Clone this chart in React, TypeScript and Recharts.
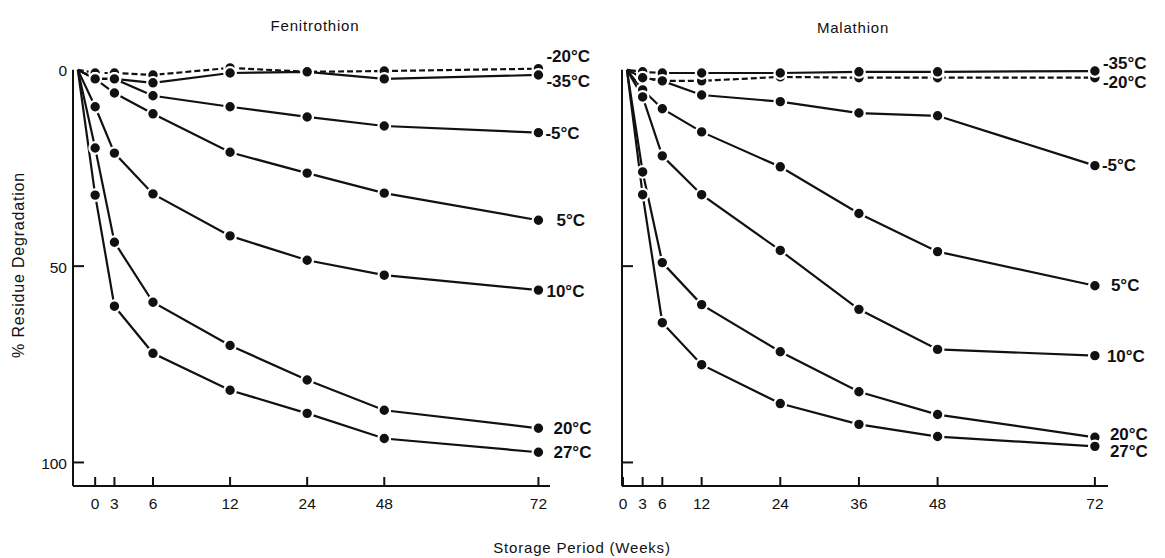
import React from 'react';
import { LineChart, Line, XAxis, YAxis, ReferenceLine } from 'recharts';

const FONT = '"Liberation Sans", Arial, Helvetica, sans-serif';

// Fenitrothion: storage weeks, plotted on the report's hand-spaced scale
const FEN_WEEKS = [0, 3, 6, 12, 24, 48, 72];
const FEN_SCALE_POS = [0, 1, 3, 7, 11, 15, 23];
const FEN_START = -0.9;
const FEN_M20 = [0.8, 0.8, 1.3, -0.5, 0.5, 0.3, -0.3];
const FEN_M35 = [2.3, 2.3, 3.3, 0.8, 0.5, 2.3, 1.3];
const FEN_M5 = [2.3, 2.3, 6.6, 9.4, 12, 14.3, 16];
const FEN_P5 = [2.3, 5.9, 11.2, 21, 26.3, 31.4, 38.3];
const FEN_P10 = [9.4, 21.2, 31.6, 42.3, 48.5, 52.3, 56.1];
const FEN_P20 = [19.9, 43.9, 59.2, 70.2, 79, 86.7, 91.3];
const FEN_P27 = [31.9, 60.2, 72.2, 81.6, 87.5, 93.9, 97.4];

// Malathion: linear week scale
const MAL_WEEKS = [3, 6, 12, 24, 36, 48, 72];
const MAL_TICKS = [0, 3, 6, 12, 24, 36, 48, 72];
const MAL_START = 0.6;
const MAL_M35 = [0.5, 0.8, 0.8, 0.8, 0.5, 0.5, 0.3];
const MAL_M20 = [2, 2.8, 2.8, 1.8, 2, 2, 2];
const MAL_M5 = [2, 2.8, 6.4, 8.1, 11, 11.7, 24.4];
const MAL_P5 = [5.1, 9.9, 15.8, 24.7, 36.6, 46.3, 55];
const MAL_P10 = [6.9, 21.9, 31.8, 46, 61, 71.2, 72.8];
const MAL_P20 = [26, 49.1, 59.8, 71.8, 82, 87.8, 93.6];
const MAL_P27 = [31.8, 64.4, 75.1, 85, 90.3, 93.4, 95.9];

const Y_TICKS = [0, 50, 100];

type Temp = { key: string; label: string; dashed?: boolean };
const TEMPS: Temp[] = [
  { key: 'm20', label: '-20°C', dashed: true },
  { key: 'm35', label: '-35°C' },
  { key: 'm5', label: '-5°C' },
  { key: 'p5', label: '5°C' },
  { key: 'p10', label: '10°C' },
  { key: 'p20', label: '20°C' },
  { key: 'p27', label: '27°C' },
];

const buildRows = (start: number, xs: number[], series: Record<string, number[]>) => {
  const first: Record<string, number> = { x: start };
  TEMPS.forEach(t => (first[t.key] = 0));
  return [
    first,
    ...xs.map((x, i) => {
      const row: Record<string, number> = { x };
      TEMPS.forEach(t => (row[t.key] = series[t.key][i]));
      return row;
    }),
  ];
};

const fenRows = buildRows(FEN_START, FEN_SCALE_POS, {
  m20: FEN_M20, m35: FEN_M35, m5: FEN_M5, p5: FEN_P5, p10: FEN_P10, p20: FEN_P20, p27: FEN_P27,
});
const malRows = buildRows(MAL_START, MAL_WEEKS, {
  m20: MAL_M20, m35: MAL_M35, m5: MAL_M5, p5: MAL_P5, p10: MAL_P10, p20: MAL_P20, p27: MAL_P27,
});

// where the end-of-line temperature labels sit relative to the last dot
type Offset = { dx: number; dy: number };
const FEN_LABEL_POS: Record<string, Offset> = {
  m20: { dx: 8, dy: -12 }, m35: { dx: 8, dy: 7 }, m5: { dx: 7, dy: 1 },
  p5: { dx: 18, dy: 0 }, p10: { dx: 8, dy: 1 }, p20: { dx: 15, dy: 0 }, p27: { dx: 15, dy: 0 },
};
const MAL_LABEL_POS: Record<string, Offset> = {
  m20: { dx: 8, dy: 5 }, m35: { dx: 8, dy: -8 }, m5: { dx: 7, dy: 0 },
  p5: { dx: 16, dy: 0 }, p10: { dx: 12, dy: 1 }, p20: { dx: 15, dy: -3 }, p27: { dx: 15, dy: 5 },
};

const makeDot = (temp: Temp, offset: Offset, lastIndex: number) => (props: any) => {
  const { cx, cy, index } = props;
  if (index === 0) return <g key={`${temp.key}-${index}`} />;
  return (
    <g key={`${temp.key}-${index}`}>
      <circle cx={cx} cy={cy} r={5.8} fill="#111" stroke="#fff" strokeWidth={2.2} />
      {index === lastIndex && (
        <text
          x={cx + offset.dx}
          y={cy + offset.dy}
          dominantBaseline="central"
          fontFamily={FONT}
          fontWeight="bold"
          fontSize={17}
          fill="#111"
        >
          {temp.label}
        </text>
      )}
    </g>
  );
};

const makeXTick = (labelOf: (v: number) => string) => (props: any) => {
  const { x, y, payload } = props;
  return (
    <g>
      <line x1={x} x2={x} y1={y - 9} y2={y} stroke="#111" strokeWidth={2} />
      <text x={x} y={y + 17} textAnchor="middle" dominantBaseline="central" fontFamily={FONT} fontSize={15.5} fill="#111">
        {labelOf(payload.value)}
      </text>
    </g>
  );
};

// y ticks point inward from the axis line; axisX is the axis position inside the chart svg
const makeYTick = (axisX: number, showLabel: boolean) => (props: any) => {
  const { y, payload } = props;
  return (
    <g>
      {payload.value !== 0 && <line x1={axisX} x2={axisX + 11} y1={y} y2={y} stroke="#111" strokeWidth={2} />}
      {showLabel && (
        <text x={axisX - 6} y={y + 1} textAnchor="end" dominantBaseline="central" fontFamily={FONT} fontSize={15.5} fill="#111">
          {payload.value}
        </text>
      )}
    </g>
  );
};

type PanelProps = {
  rows: Record<string, number>[];
  left: number;
  width: number;
  margin: { top: number; right: number; bottom: number; left: number };
  yAxisWidth: number;
  xDomain: [number, number];
  xTicks: number[];
  xLabel: (v: number) => string;
  yLabels: boolean;
  labelPos: Record<string, Offset>;
};

const Panel: React.FC<PanelProps> = ({ rows, left, width, margin, yAxisWidth, xDomain, xTicks, xLabel, yLabels, labelPos }) => (
  <div style={{ position: 'absolute', left, top: 0, width, height: 558 }}>
    <LineChart width={width} height={558} data={rows} margin={margin} style={{ overflow: 'visible' }}>
      <XAxis
        type="number"
        dataKey="x"
        domain={xDomain}
        ticks={xTicks}
        interval={0}
        height={30}
        tickSize={0}
        tickMargin={0}
        tickLine={false}
        axisLine={{ stroke: '#111', strokeWidth: 2 }}
        tick={makeXTick(xLabel)}
      />
      <YAxis
        type="number"
        domain={[-2, 106]}
        reversed
        ticks={Y_TICKS}
        interval={0}
        width={yAxisWidth}
        tickSize={0}
        tickMargin={0}
        tickLine={false}
        axisLine={false}
        tick={makeYTick(margin.left + yAxisWidth, yLabels)}
      />
      <ReferenceLine
        segment={[{ x: xDomain[0], y: 0 }, { x: xDomain[0], y: 106 }]}
        stroke="#111"
        strokeWidth={2}
      />
      {TEMPS.map(t => (
        <Line
          key={t.key}
          dataKey={t.key}
          type="linear"
          stroke="#111"
          strokeWidth={2.2}
          strokeDasharray={t.dashed ? '6 3' : undefined}
          dot={makeDot(t, labelPos[t.key], rows.length - 1)}
          activeDot={false}
          isAnimationActive={false}
        />
      ))}
    </LineChart>
  </div>
);

export default function App() {
  return (
    <div style={{ position: 'absolute', left: 0, top: 0, width: 1165, height: 558, background: '#fff', fontFamily: FONT }}>
      <Panel
        rows={fenRows}
        left={0}
        width={600}
        margin={{ top: 62, right: 50, bottom: 42, left: 33 }}
        yAxisWidth={40}
        xDomain={[-1.15, 23.6]}
        xTicks={FEN_SCALE_POS}
        xLabel={v => String(FEN_WEEKS[FEN_SCALE_POS.indexOf(v)])}
        yLabels
        labelPos={FEN_LABEL_POS}
      />
      <Panel
        rows={malRows}
        left={600}
        width={565}
        margin={{ top: 62, right: 57, bottom: 42, left: 2 }}
        yAxisWidth={20}
        xDomain={[-0.15, 74]}
        xTicks={MAL_TICKS}
        xLabel={v => String(v)}
        yLabels={false}
        labelPos={MAL_LABEL_POS}
      />
      <svg width={1165} height={558} style={{ position: 'absolute', left: 0, top: 0, pointerEvents: 'none' }}>
        <text x={315} y={25} textAnchor="middle" dominantBaseline="central" fontFamily={FONT} fontSize={15} letterSpacing={0.8} fill="#111">
          Fenitrothion
        </text>
        <text x={853} y={27} textAnchor="middle" dominantBaseline="central" fontFamily={FONT} fontSize={15} letterSpacing={0.8} fill="#111">
          Malathion
        </text>
        <text x={582} y={547} textAnchor="middle" dominantBaseline="central" fontFamily={FONT} fontSize={15} letterSpacing={0.8} fill="#111">
          Storage Period (Weeks)
        </text>
        <text
          x={18}
          y={265}
          transform="rotate(-90 18 265)"
          textAnchor="middle"
          dominantBaseline="central"
          fontFamily={FONT}
          fontSize={16}
          letterSpacing={0.8}
          fill="#111"
        >
          % Residue Degradation
        </text>
      </svg>
    </div>
  );
}
